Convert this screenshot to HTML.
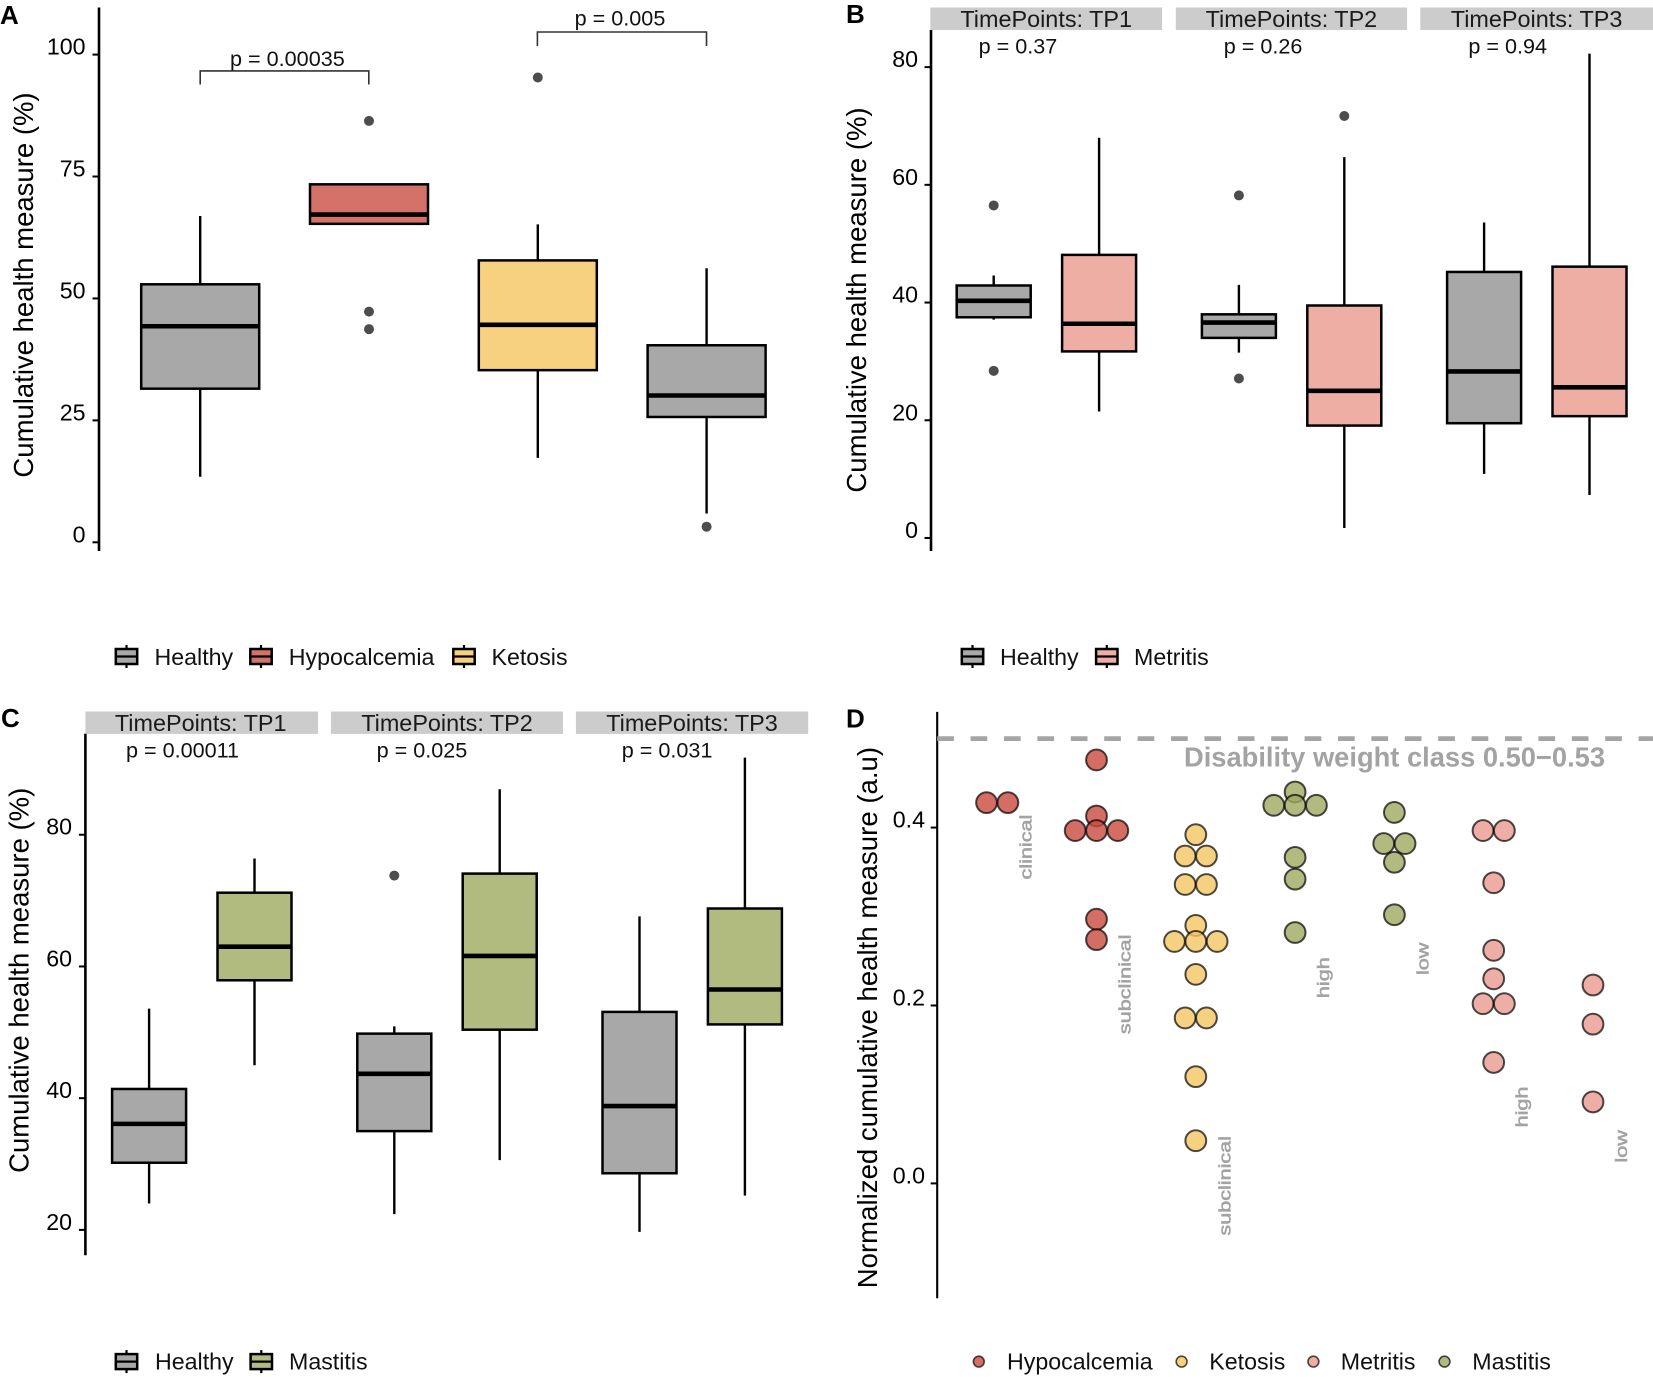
<!DOCTYPE html>
<html lang="en">
<head>
<meta charset="utf-8">
<title>Cumulative health measure panels</title>
<style>
html,body{margin:0;padding:0;background:#fff;width:1653px;height:1377px;overflow:hidden}
svg{display:block}
text{font-family:"Liberation Sans",sans-serif;fill:#000}
.tick{font-size:23.2px;text-anchor:end}
.title{font-size:27.5px;text-anchor:middle}
.leg{font-size:23.2px;fill:#111}
.p{font-size:21.6px;fill:#111}
.strip{font-size:23.4px;text-anchor:middle;fill:#1a1a1a}
.letter{font-size:26px;font-weight:bold}
.rot{font-size:17px;fill:#a3a3a3;stroke:#a3a3a3;stroke-width:.55px;text-anchor:middle}
</style>
</head>
<body>
<svg id="fig" xmlns="http://www.w3.org/2000/svg" width="1653" height="1377" viewBox="0 0 1653 1377">
<rect width="1653" height="1377" fill="#fff"/>

<g id="panelA">
  <text class="letter" x="0" y="24">A</text>
  <text class="title" transform="translate(33,285) rotate(-90)">Cumulative health measure (%)</text>
  <line x1="99" x2="99" y1="7.5" y2="551" stroke="#000" stroke-width="2.6"/>
  <path d="M200.2 84.5V70.9H368.8V84.5" fill="none" stroke="#333" stroke-width="1.6"/>
  <text class="p" x="287.4" y="66" text-anchor="middle">p = 0.00035</text>
  <path d="M537.4 46V32H706.5V46" fill="none" stroke="#333" stroke-width="1.6"/>
  <text class="p" x="620" y="25.5" text-anchor="middle">p = 0.005</text>
  <g id="legendA">
    <text class="leg" x="154.5" y="665">Healthy</text>
    <text class="leg" x="288.8" y="665">Hypocalcemia</text>
    <text class="leg" x="491.5" y="665">Ketosis</text>
  </g>
</g>

<g id="panelB">
  <text class="letter" x="846" y="23">B</text>
  <text class="title" transform="translate(866,300) rotate(-90)">Cumulative health measure (%)</text>
  <rect x="930.3" y="7.5" width="231.8" height="22.5" fill="#cccccc"/>
  <rect x="1175.8" y="7.5" width="231.3" height="22.5" fill="#cccccc"/>
  <rect x="1420.3" y="7.5" width="232.7" height="22.5" fill="#cccccc"/>
  <text class="strip" x="1046.2" y="27.2">TimePoints: TP1</text>
  <text class="strip" x="1291.4" y="27.2">TimePoints: TP2</text>
  <text class="strip" x="1536.6" y="27.2">TimePoints: TP3</text>
  <line x1="931" x2="931" y1="30" y2="551" stroke="#000" stroke-width="2.6"/>
  <text class="p" x="978.6" y="53.3">p = 0.37</text>
  <text class="p" x="1223.8" y="53.3">p = 0.26</text>
  <text class="p" x="1468.4" y="53.3">p = 0.94</text>
  <g id="legendB">
    <text class="leg" x="1000" y="665">Healthy</text>
    <text class="leg" x="1134" y="665">Metritis</text>
  </g>
</g>

<g id="panelC">
  <text class="letter" x="1" y="727">C</text>
  <text class="title" transform="translate(28.5,980.3) rotate(-90)">Cumulative health measure (%)</text>
  <rect x="85.4" y="711.5" width="232.6" height="22.4" fill="#cccccc"/>
  <rect x="330.9" y="711.5" width="232.1" height="22.4" fill="#cccccc"/>
  <rect x="575.9" y="711.5" width="232.3" height="22.4" fill="#cccccc"/>
  <text class="strip" x="200.7" y="731">TimePoints: TP1</text>
  <text class="strip" x="447" y="731">TimePoints: TP2</text>
  <text class="strip" x="692" y="731">TimePoints: TP3</text>
  <line x1="85.4" x2="85.4" y1="733.8" y2="1255.3" stroke="#000" stroke-width="2.6"/>
  <text class="p" x="126" y="757.6">p = 0.00011</text>
  <text class="p" x="376.6" y="757.6">p = 0.025</text>
  <text class="p" x="621.8" y="757.6">p = 0.031</text>
  <g id="legendC">
    <text class="leg" x="155" y="1369.7">Healthy</text>
    <text class="leg" x="289" y="1369.7">Mastitis</text>
  </g>
</g>

<g id="panelD">
  <text class="letter" x="846" y="727.5">D</text>
  <text class="title" style="font-size:27.6px" transform="translate(877,1017.6) rotate(-90)">Normalized cumulative health measure (a.u)</text>
  <line x1="937.2" x2="937.2" y1="711.9" y2="1298.2" stroke="#000" stroke-width="2.1"/>
  <line id="thresholdLine" x1="937.2" x2="1653" stroke="#a5a5a5" stroke-width="4.7" stroke-dasharray="16.7 16.7"/>
  <text x="1184" y="766.4" font-size="27.3" font-weight="bold" style="fill:#a3a3a3">Disability weight class 0.50−0.53</text>
  <text class="rot" transform="translate(1031.7,847.1) rotate(-90) scale(1.27,1)">clinical</text>
  <text class="rot" transform="translate(1130.4,984.3) rotate(-90) scale(1.27,1)">subclinical</text>
  <text class="rot" transform="translate(1230.5,1185.8) rotate(-90) scale(1.27,1)">subclinical</text>
  <text class="rot" transform="translate(1329,977.7) rotate(-90) scale(1.27,1)">high</text>
  <text class="rot" transform="translate(1428.5,958.8) rotate(-90) scale(1.27,1)">low</text>
  <text class="rot" transform="translate(1527.5,1107) rotate(-90) scale(1.27,1)">high</text>
  <text class="rot" transform="translate(1627,1146.4) rotate(-90) scale(1.27,1)">low</text>
  <g id="legendD">
    <text class="leg" x="1007" y="1369.7">Hypocalcemia</text>
    <text class="leg" x="1209.3" y="1369.7">Ketosis</text>
    <text class="leg" x="1340.8" y="1369.7">Metritis</text>
    <text class="leg" x="1472.3" y="1369.7">Mastitis</text>
  </g>
</g>
</svg>

<script>
// ---------- Panel A data ----------
const aCategories = ['Healthy', 'Hypocalcemia', 'Ketosis', 'Healthy'];
const aTicks = [0, 25, 50, 75, 100];
const aLow = [13.45, 65.3, 17.3, 5.9];
const aQ1 = [31.5, 65.3, 35.3, 25.7];
const aMedian = [44.3, 67.2, 44.6, 30.1];
const aQ3 = [52.9, 73.4, 57.8, 40.4];
const aHigh = [66.9, 73.4, 65.2, 56.2];
const aOutliers = [[], [86.4, 47.3, 43.7], [95.3], [3.2]];

// ---------- Panel B data (Healthy, Metritis per time point) ----------
const bCategories = ['Healthy', 'Metritis', 'Healthy', 'Metritis', 'Healthy', 'Metritis'];
const bTicks = [0, 20, 40, 60, 80];
const bLow = [37.1, 21.5, 31.5, 1.7, 10.9, 7.3];
const bQ1 = [37.5, 31.7, 34, 19.1, 19.5, 20.7];
const bMedian = [40.3, 36.4, 36.6, 25, 28.3, 25.6];
const bQ3 = [42.9, 48.1, 38, 39.5, 45.2, 46.1];
const bHigh = [44.6, 68, 43, 64.7, 53.6, 82.3];
const bOutliers = [[56.5, 28.4], [], [58.2, 27.1], [71.7], [], []];

// ---------- Panel C data (Healthy, Mastitis per time point) ----------
const cCategories = ['Healthy', 'Mastitis', 'Healthy', 'Mastitis', 'Healthy', 'Mastitis'];
const cTicks = [20, 40, 60, 80];
const cLow = [24, 45, 22.4, 30.6, 19.7, 25.2];
const cQ1 = [30.2, 57.9, 35, 50.4, 28.6, 51.2];
const cMedian = [36.1, 63, 43.7, 61.6, 38.8, 56.5];
const cQ3 = [41.4, 71.2, 49.8, 74.1, 53.1, 68.8];
const cHigh = [53.6, 76.4, 50.9, 86.9, 67.6, 91.7];
const cOutliers = [[], [], [73.8], [], [], []];

// ---------- Panel D data ----------
const dGroups = ['Hypocalcemia', 'Hypocalcemia', 'Ketosis', 'Mastitis', 'Mastitis', 'Metritis', 'Metritis'];
const dSeverity = ['clinical', 'subclinical', 'subclinical', 'high', 'low', 'high', 'low'];
const dTicks = ['0.0', '0.2', '0.4'];
const dThreshold = 0.5;
const dValues = [
  [0.428, 0.428],
  [0.476, 0.413, 0.3966, 0.3966, 0.3966, 0.297, 0.274],
  [0.392, 0.368, 0.368, 0.336, 0.336, 0.29, 0.272, 0.272, 0.272, 0.235, 0.186, 0.186, 0.12, 0.048],
  [0.44, 0.425, 0.425, 0.425, 0.3665, 0.342, 0.282],
  [0.417, 0.382, 0.382, 0.361, 0.302],
  [0.3966, 0.3966, 0.338, 0.262, 0.23, 0.202, 0.202, 0.136],
  [0.223, 0.179, 0.0916]
];

// ---------- Styles ----------
const boxFill = {Healthy: '#a7a8a7', Hypocalcemia: '#d4726a', Ketosis: '#f7d180', Metritis: '#eeaea4', Mastitis: '#b2bb7f'};
const dotFill = {Hypocalcemia: '#c94a3f', Ketosis: '#f5c663', Metritis: '#ea9a8e', Mastitis: '#9fa960'};

// ---------- Axis functions ----------
const yA = v => 542.3 - 4.877 * v;
const xA = i => 200.2 + 168.8 * i;
const yB = v => 538 - 5.886 * v;
const xB = i => 993.7 + 245.2 * Math.floor(i / 2) + 105.4 * (i % 2);
const yC = v => 1229.9 - 6.586 * (v - 20);
const xC = i => 149.1 + 245.2 * Math.floor(i / 2) + 105.4 * (i % 2);
const yD = v => 1183.4 - 889.6 * v;
const xD = i => 997.2 + 99.3 * i;
const dotStep = 21.3;

const NS = 'http://www.w3.org/2000/svg';
function make(parent, tag, attrs) {
  const el = document.createElementNS(NS, tag);
  for (const k in attrs) el.setAttribute(k, attrs[k]);
  parent.appendChild(el);
  return el;
}

function drawTicks(parent, ticks, yFn, axisX, labelX) {
  ticks.forEach(t => {
    const y = yFn(+t);
    const tick = make(parent, 'line', {x1: axisX - 6.5, x2: axisX, y1: y, y2: y, stroke: '#000', 'stroke-width': 2});
    
    
    const label = make(parent, 'text', {x: labelX, y: y, class: 'tick'});
    label.textContent = t;
    
    
  });
}

function drawBoxes(parent, cats, low, q1, med, q3, high, outliers, xFn, yFn, width) {
  cats.forEach((cat, i) => {
    const g = make(parent, 'g', {});
    
    
    const x = xFn(i);
    const whisker = make(g, 'line', {x1: x, x2: x, y1: yFn(high[i]), y2: yFn(low[i]), stroke: '#000', 'stroke-width': 2.4});
    
    
    const box = make(g, 'rect', {x: x - width / 2, y: yFn(q3[i]), width: width, height: yFn(q1[i]) - yFn(q3[i]), fill: boxFill[cat], stroke: '#000', 'stroke-width': 2.5});
    
    
    const median = make(g, 'line', {x1: x - width / 2, x2: x + width / 2, y1: yFn(med[i]), y2: yFn(med[i]), stroke: '#000', 'stroke-width': 4.6});
    
    
    outliers[i].forEach(v => {
      const o = make(g, 'circle', {cx: x, cy: yFn(v), r: 5, fill: '#4d4d4d'});
      
      
    });
  });
}

function drawKey(parent, cx, cy, cat) {
  const g = make(parent, 'g', {});
  
  
  const w = make(g, 'line', {x1: cx, x2: cx, y1: cy - 11.5, y2: cy + 11.5, stroke: '#000', 'stroke-width': 2.2});
  
  
  const r = make(g, 'rect', {x: cx - 10.7, y: cy - 7.5, width: 21.4, height: 15, fill: boxFill[cat], stroke: '#000', 'stroke-width': 2.5});
  
  
  const m = make(g, 'line', {x1: cx - 10.7, x2: cx + 10.7, y1: cy, y2: cy, stroke: '#000', 'stroke-width': 2.2});
  
  
}

// Panel A
const panelA = document.getElementById('panelA');
drawTicks(panelA, aTicks, yA, 99, 85.5);
drawBoxes(panelA, aCategories, aLow, aQ1, aMedian, aQ3, aHigh, aOutliers, xA, yA, 118);
const legendA = document.getElementById('legendA');
drawKey(legendA, 126.5, 656.5, 'Healthy');
drawKey(legendA, 261, 656.5, 'Hypocalcemia');
drawKey(legendA, 464, 656.5, 'Ketosis');

// Panel B
const panelB = document.getElementById('panelB');
drawTicks(panelB, bTicks, yB, 931, 918);
drawBoxes(panelB, bCategories, bLow, bQ1, bMedian, bQ3, bHigh, bOutliers, xB, yB, 74);
const legendB = document.getElementById('legendB');
drawKey(legendB, 972.5, 656.5, 'Healthy');
drawKey(legendB, 1106.8, 656.5, 'Metritis');

// Panel C
const panelC = document.getElementById('panelC');
drawTicks(panelC, cTicks, yC, 85.4, 72);
drawBoxes(panelC, cCategories, cLow, cQ1, cMedian, cQ3, cHigh, cOutliers, xC, yC, 74);
const legendC = document.getElementById('legendC');
drawKey(legendC, 126.5, 1361.6, 'Healthy');
drawKey(legendC, 261.3, 1361.6, 'Mastitis');

// Panel D
const panelD = document.getElementById('panelD');
drawTicks(panelD, dTicks, yD, 937.2, 925);
const thresholdLine = document.getElementById('thresholdLine');
thresholdLine.setAttribute('y1', yD(dThreshold));
thresholdLine.setAttribute('y2', yD(dThreshold));

dValues.forEach((vals, gi) => {
  const g = make(panelD, 'g', {});
  
  
  const rows = new Map();
  vals.forEach(v => rows.set(v, (rows.get(v) || 0) + 1));
  rows.forEach((count, v) => {
    for (let k = 0; k < count; k++) {
      const dx = (k - (count - 1) / 2) * dotStep;
      const dot = make(g, 'circle', {cx: xD(gi) + dx, cy: yD(v), r: 10.4, fill: dotFill[dGroups[gi]], 'fill-opacity': 0.8, stroke: '#000', 'stroke-opacity': 0.7, 'stroke-width': 2});
      
      
    }
  });
});

const legendD = document.getElementById('legendD');
const legendDotNames = ['Hypocalcemia', 'Ketosis', 'Metritis', 'Mastitis'];
const legendDotX = [978.8, 1181.6, 1313.4, 1444.5];
legendDotNames.forEach((name, i) => {
  const key = make(legendD, 'circle', {cx: legendDotX[i], cy: 1361.6, r: 5.4, fill: dotFill[name], 'fill-opacity': 0.8, stroke: '#000', 'stroke-opacity': 0.7, 'stroke-width': 1.6});
  
  
});
</script>
</body>
</html>
